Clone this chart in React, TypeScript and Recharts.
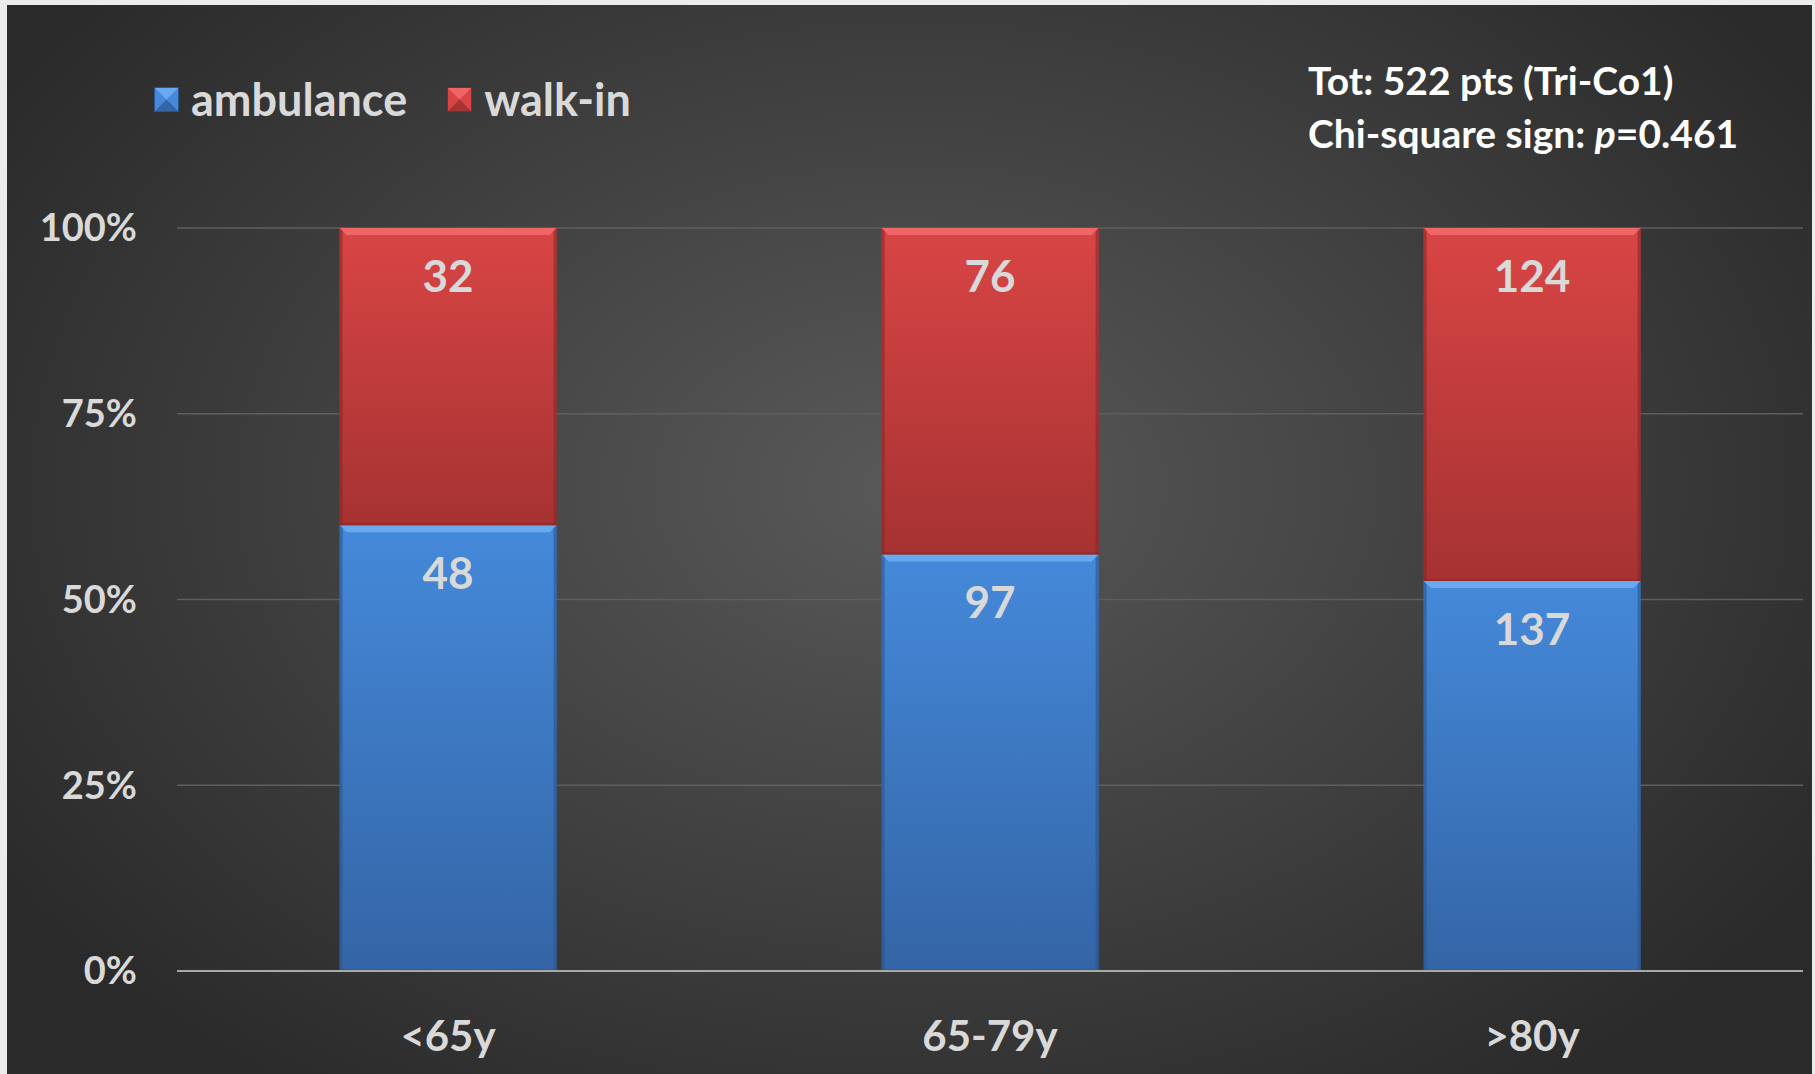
import React from "react";
import { BarChart, Bar, XAxis, YAxis, CartesianGrid, LabelList } from "recharts";

// age groups and patient counts per arrival mode
const categories = ["<65y", "65-79y", ">80y"];
const ambulance = [48, 97, 137];
const walkIn = [32, 76, 124];
const yTicks = [0, 0.25, 0.5, 0.75, 1];
const seriesNames = ["ambulance", "walk-in"];
const noteLine1 = "Tot: 522 pts (Tri-Co1)";

const data = categories.map((cat, i) => ({
  cat,
  ambulance: ambulance[i],
  walkin: walkIn[i],
}));

const FONT = "Lato, 'Open Sans', sans-serif";
const TXT = "#d9d9d9";

const palette: Record<string, { top: string; bot: string; bevel: string; edge: string }> = {
  ambulance: { top: "#4589da", bot: "#3465a6", bevel: "#6aa9f0", edge: "#2a5590" },
  walkin: { top: "#d94545", bot: "#a63232", bevel: "#f06565", edge: "#8a2626" },
};

// stacked segment with a small bevel on top, like the office 3d preset
function BevelBar(props: any) {
  const { x, y, width, height, dataKey } = props;
  if (!height || height <= 0) return null;
  const c = palette[dataKey];
  const b = 7;
  return (
    <g>
      <rect x={x} y={y} width={width} height={height} fill={`url(#g-${dataKey})`} />
      <polygon
        points={`${x},${y} ${x + width},${y} ${x + width - b},${y + b} ${x + b},${y + b}`}
        fill={c.bevel}
      />
      <polygon
        points={`${x},${y} ${x + 3},${y + 3} ${x + 3},${y + height} ${x},${y + height}`}
        fill={c.edge}
        opacity={0.6}
      />
      <polygon
        points={`${x + width},${y} ${x + width - 3},${y + 3} ${x + width - 3},${y + height} ${x + width},${y + height}`}
        fill={c.edge}
        opacity={0.6}
      />
      <rect x={x} y={y + height - 2} width={width} height={2} fill={c.edge} opacity={0.6} />
    </g>
  );
}

function SegLabel(props: any) {
  const { x, y, width, value } = props;
  return (
    <text
      x={x + width / 2}
      y={y + 47}
      textAnchor="middle"
      dominantBaseline="central"
      fill={TXT}
      style={{ fontFamily: FONT, fontWeight: 700, fontSize: 44 }}
    >
      {value}
    </text>
  );
}

function LegendIcon({ k }: { k: string }) {
  const c = palette[k];
  return (
    <svg width={25} height={25} style={{ marginRight: 12 }}>
      <rect x={0} y={0} width={25} height={25} fill={c.top} />
      <polygon points="0,0 25,0 12.5,12.5" fill={c.bevel} />
      <polygon points="0,25 25,25 12.5,12.5" fill={c.bot} />
      <rect x={0.5} y={0.5} width={24} height={24} fill="none" stroke={c.edge} />
    </svg>
  );
}

export default function App() {
  return (
    <div style={{ position: "relative", width: 1815, height: 1074, background: "#ececec", overflow: "hidden" }}>
      <style>{"body{margin:0}"}</style>
      <div
        style={{
          position: "absolute",
          left: 7,
          top: 5,
          width: 1805,
          height: 1069,
          background: "radial-gradient(ellipse 60% 70% at 50% 45%, #595959 0%, #444 45%, #2a2a2a 100%)",
        }}
      />
      <div style={{ position: "absolute", left: 0, top: 0 }}>
        <BarChart
          width={1815}
          height={1074}
          data={data}
          stackOffset="expand"
          barCategoryGap="30%"
          margin={{ top: 228, right: 12, bottom: 0, left: 0 }}
        >
          <defs>
            {Object.keys(palette).map((k) => (
              <linearGradient key={k} id={`g-${k}`} x1="0" y1="0" x2="0" y2="1">
                <stop offset="0%" stopColor={palette[k].top} />
                <stop offset="100%" stopColor={palette[k].bot} />
              </linearGradient>
            ))}
          </defs>
          <CartesianGrid vertical={false} stroke="#5e5e5e" strokeWidth={1.5} />
          <XAxis
            dataKey="cat"
            height={103}
            axisLine={{ stroke: "#a8a8a8", strokeWidth: 2 }}
            tickLine={false}
            tickSize={0}
            tickMargin={50}
            tick={{ fill: TXT, fontFamily: FONT, fontWeight: 700, fontSize: 42 }}
          />
          <YAxis
            width={177}
            domain={[0, 1]}
            ticks={yTicks}
            axisLine={false}
            tickLine={false}
            tickSize={0}
            tickMargin={40}
            tickFormatter={(v: number) => `${Math.round(v * 100)}%`}
            tick={{ fill: TXT, fontFamily: FONT, fontWeight: 700, fontSize: 38 }}
          />
          <Bar dataKey="ambulance" stackId="a" shape={<BevelBar />} isAnimationActive={false}>
            <LabelList dataKey="ambulance" content={<SegLabel />} />
          </Bar>
          <Bar dataKey="walkin" stackId="a" shape={<BevelBar />} isAnimationActive={false}>
            <LabelList dataKey="walkin" content={<SegLabel />} />
          </Bar>
        </BarChart>
      </div>
      <div
        style={{
          position: "absolute",
          left: 154,
          top: 72,
          display: "flex",
          alignItems: "center",
          fontFamily: FONT,
          fontWeight: 700,
          fontSize: 45,
          color: TXT,
        }}
      >
        <LegendIcon k="ambulance" />
        <span style={{ marginRight: 40 }}>{seriesNames[0]}</span>
        <LegendIcon k="walkin" />
        <span>{seriesNames[1]}</span>
      </div>
      <div
        style={{
          position: "absolute",
          left: 1308,
          top: 54,
          fontFamily: FONT,
          fontWeight: 700,
          fontSize: 39,
          lineHeight: "53px",
          color: "#ffffff",
          whiteSpace: "nowrap",
        }}
      >
        <div>{noteLine1}</div>
        <div>
          Chi-square sign: <i>p</i>=0.461
        </div>
      </div>
    </div>
  );
}
